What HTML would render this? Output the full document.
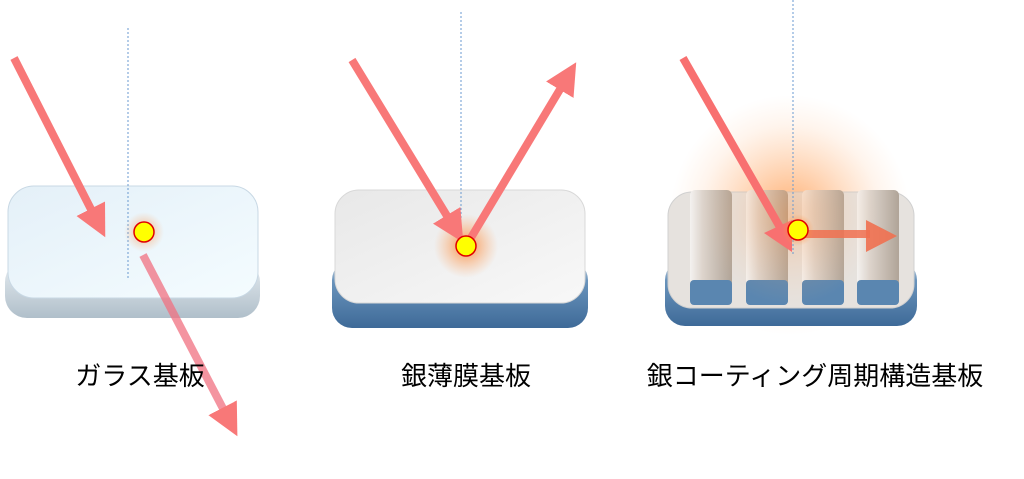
<!DOCTYPE html>
<html><head><meta charset="utf-8"><style>
body{margin:0;background:#fff;width:1024px;height:479px;overflow:hidden}
svg{display:block}
text{font-family:"Liberation Sans","Noto Sans CJK JP",sans-serif;font-size:26px;fill:#000}
</style></head><body>
<svg width="1024" height="479" viewBox="0 0 1024 479">
<defs>
<radialGradient id="glow"><stop offset="0" stop-color="#ff6a00" stop-opacity=".9"/><stop offset="1" stop-color="#ff9a50" stop-opacity="0"/></radialGradient>
<radialGradient id="glowbig"><stop offset="0" stop-color="#ff8a30" stop-opacity=".55"/><stop offset="1" stop-color="#ffc090" stop-opacity="0"/></radialGradient>
<linearGradient id="gtop" x1="0" y1="0" x2="1" y2="1"><stop offset="0" stop-color="#e4f0f8"/><stop offset="1" stop-color="#f4fcff"/></linearGradient>
<linearGradient id="gside" x1="0" y1="0" x2="0" y2="1"><stop offset="0" stop-color="#e8eef2"/><stop offset="1" stop-color="#b0bfca"/></linearGradient>
<linearGradient id="bside" x1="0" y1="0" x2="0" y2="1"><stop offset="0" stop-color="#e8e8e8"/><stop offset=".3" stop-color="#6a94bc"/><stop offset="1" stop-color="#3e6a98"/></linearGradient>
<linearGradient id="stop2" x1="0" y1="0" x2="1" y2="1"><stop offset="0" stop-color="#e8e8e8"/><stop offset="1" stop-color="#f8f8f8"/></linearGradient>
<linearGradient id="ridge" x1="0" y1="0" x2="1" y2="0"><stop offset="0" stop-color="#f4f2f0"/><stop offset=".3" stop-color="#ddd4cc"/><stop offset="1" stop-color="#b0a498"/></linearGradient>
<marker id="ah" markerWidth="4" markerHeight="4" refX="2" refY="2" orient="auto"><path d="M0,0 L4,2 L0,4 Z" fill="#f87878"/></marker>
</defs>

<!-- Panel 1 glass -->
<rect x="5" y="260" width="255" height="58" rx="22" fill="url(#gside)"/>
<rect x="8" y="186" width="250" height="112" rx="26" fill="url(#gtop)" stroke="#c8d8e4"/>
<line x1="128" y1="28" x2="128" y2="280" stroke="#6a9ad0" stroke-dasharray="2,2"/>
<circle cx="144" cy="232" r="20" fill="url(#glow)" opacity=".6"/>
<line x1="14" y1="58" x2="98" y2="223" stroke="#f87878" stroke-width="8" marker-end="url(#ah)"/>
<line x1="143" y1="255" x2="230" y2="422" stroke="#f07080" stroke-width="8" stroke-opacity=".75" marker-end="url(#ah)"/>
<circle cx="144" cy="232" r="10" fill="#ffff00" stroke="#e00000" stroke-width="1.5"/>

<!-- Panel 2 silver -->
<rect x="332" y="260" width="256" height="68" rx="20" fill="url(#bside)"/>
<rect x="335" y="190" width="250" height="113" rx="24" fill="url(#stop2)" stroke="#d8d8d8"/>
<line x1="461" y1="12" x2="461" y2="240" stroke="#6a9ad0" stroke-dasharray="2,2"/>
<circle cx="466" cy="246" r="32" fill="url(#glow)" opacity=".8"/>
<line x1="352" y1="60" x2="455" y2="229" stroke="#f87878" stroke-width="8" marker-end="url(#ah)"/>
<line x1="466" y1="246" x2="568" y2="76" stroke="#f87878" stroke-width="8" marker-end="url(#ah)"/>
<circle cx="466" cy="246" r="10" fill="#ffff00" stroke="#e00000" stroke-width="1.5"/>

<!-- Panel 3 grating -->
<circle cx="790" cy="215" r="120" fill="url(#glowbig)"/>
<rect x="665" y="260" width="252" height="66" rx="20" fill="url(#bside)"/>
<rect x="668" y="192" width="246" height="116" rx="24" fill="#e6e2de" stroke="#d0d0d0"/>
<g>
<rect x="690" y="190" width="42" height="115" rx="5" fill="url(#ridge)"/><rect x="690" y="280" width="42" height="25" rx="4" fill="#5a86b0"/>
<rect x="746" y="190" width="42" height="115" rx="5" fill="url(#ridge)"/><rect x="746" y="280" width="42" height="25" rx="4" fill="#5a86b0"/>
<rect x="802" y="190" width="42" height="115" rx="5" fill="url(#ridge)"/><rect x="802" y="280" width="42" height="25" rx="4" fill="#5a86b0"/>
<rect x="857" y="190" width="42" height="115" rx="5" fill="url(#ridge)"/><rect x="857" y="280" width="42" height="25" rx="4" fill="#5a86b0"/>
</g>
<circle cx="790" cy="215" r="90" fill="url(#glowbig)" opacity=".6"/>
<line x1="793" y1="0" x2="793" y2="255" stroke="#6a9ad0" stroke-dasharray="2,2"/>
<line x1="683" y1="58" x2="785" y2="236" stroke="#f87070" stroke-width="8"/>
<path d="M764,233 L792,220 L792,252 Z" fill="#f87070"/>
<line x1="798" y1="234" x2="870" y2="234" stroke="#f07050" stroke-width="8" stroke-opacity=".85"/>
<path d="M866,220 L897,236 L866,252 Z" fill="#f07050" opacity=".9"/>
<circle cx="798" cy="230" r="16" fill="url(#glow)"/>
<circle cx="798" cy="230" r="10" fill="#ffff00" stroke="#e00000" stroke-width="1.5"/>

<text x="140" y="385" text-anchor="middle">ガラス基板</text>
<text x="466" y="385" text-anchor="middle">銀薄膜基板</text>
<text x="815" y="385" text-anchor="middle">銀コーティング周期構造基板</text>
</svg>
</body></html>
